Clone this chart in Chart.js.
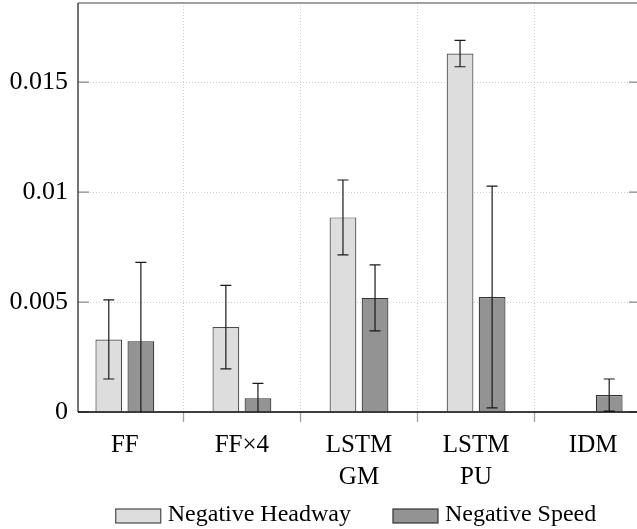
<!DOCTYPE html>
<html><head><meta charset="utf-8">
<script src="https://cdn.jsdelivr.net/npm/chart.js@4.4.1/dist/chart.umd.min.js"></script>
<style>html,body{margin:0;padding:0;overflow:hidden;background:#fff}canvas{display:block}</style>
</head><body>
<canvas id="c" width="641" height="529" style="width:641px;height:529px"></canvas>
<script>
const categories = [['FF'], ['FF×4'], ['LSTM', 'GM'], ['LSTM', 'PU'], ['IDM']];
const seriesNames = ['Negative Headway', 'Negative Speed'];
const headway = [0.00330, 0.00386, 0.00885, 0.01630, 0];
const headwayErr = [0.00180, 0.00190, 0.00170, 0.00060, 0];
const speed = [0.00322, 0.00062, 0.00519, 0.00523, 0.00077];
const speedErr = [0.00358, 0.00068, 0.00150, 0.00504, 0.00073];
const yTickValues = [0, 0.005, 0.01, 0.015];
const yTickLabels = ['0', '0.005', '0.01', '0.015'];
const yMax = 0.0186;

const seriesValues = [headway, speed];
const seriesErrors = [headwayErr, speedErr];
const SERIF = 'Liberation Serif';
Chart.defaults.font.family = SERIF;
Chart.defaults.color = '#000';

const errorBarPlugin = {
  id: 'errorBars',
  afterDatasetsDraw(chart) {
    const ctx = chart.ctx, ca = chart.chartArea, ys = chart.scales.y;
    ctx.save();
    ctx.beginPath();
    ctx.rect(ca.left, ca.top, ca.right - ca.left, ca.bottom - ca.top);
    ctx.clip();
    ctx.strokeStyle = '#1a1a1a';
    ctx.lineWidth = 1.2;
    chart.data.datasets.forEach((ds, d) => {
      const meta = chart.getDatasetMeta(d);
      meta.data.forEach((el, i) => {
        const v = seriesValues[d][i], e = seriesErrors[d][i];
        if (!e) return;
        const x = el.x;
        const yt = ys.getPixelForValue(v + e), yb = ys.getPixelForValue(v - e);
        ctx.beginPath();
        ctx.moveTo(x, yt); ctx.lineTo(x, yb);
        ctx.moveTo(x - 5.5, yt); ctx.lineTo(x + 5.5, yt);
        ctx.moveTo(x - 5.5, yb); ctx.lineTo(x + 5.5, yb);
        ctx.stroke();
      });
    });
    ctx.restore();
  }
};

const framePlugin = {
  id: 'frame',
  afterDraw(chart) {
    const ctx = chart.ctx, ca = chart.chartArea, ys = chart.scales.y;
    ctx.save();
    ctx.strokeStyle = '#8a8a8a';
    ctx.lineWidth = 1.2;
    yTickValues.forEach(v => {
      const y = ys.getPixelForValue(v);
      ctx.beginPath();
      ctx.moveTo(ca.left, y); ctx.lineTo(ca.left + 11, y);
      ctx.moveTo(ca.right - 11, y); ctx.lineTo(ca.right, y);
      ctx.stroke();
    });
    ctx.lineWidth = 1.4;
    ctx.strokeStyle = '#808080';
    ctx.beginPath(); ctx.moveTo(ca.left, ca.top); ctx.lineTo(ca.right, ca.top); ctx.stroke();
    ctx.beginPath(); ctx.moveTo(ca.right, ca.top); ctx.lineTo(ca.right, ca.bottom); ctx.stroke();
    ctx.strokeStyle = '#3a3a3a';
    ctx.beginPath(); ctx.moveTo(ca.left, ca.top); ctx.lineTo(ca.left, ca.bottom); ctx.stroke();
    ctx.strokeStyle = '#000';
    ctx.beginPath(); ctx.moveTo(ca.left, ca.bottom); ctx.lineTo(ca.right, ca.bottom); ctx.stroke();
    ctx.restore();
  }
};

const legendPlugin = {
  id: 'customLegend',
  afterDraw(chart) {
    const ctx = chart.ctx, ca = chart.chartArea;
    ctx.save();
    ctx.font = '24px "' + SERIF + '"';
    ctx.textBaseline = 'alphabetic';
    const boxW = 45, boxH = 14, textGap = 7, itemGap = 42;
    const dsets = chart.data.datasets;
    const widths = dsets.map(ds => ctx.measureText(ds.label).width);
    const total = widths.reduce((a, w) => a + boxW + textGap + w, 0) + itemGap * (dsets.length - 1);
    let x = (ca.left + ca.right) / 2 - total / 2 - 3;
    const yc = ca.bottom + 104;
    dsets.forEach((ds, i) => {
      ctx.fillStyle = ds.backgroundColor;
      ctx.fillRect(x, yc - boxH / 2, boxW, boxH);
      ctx.strokeStyle = ds.borderColor;
      ctx.lineWidth = 1.2;
      ctx.strokeRect(x, yc - boxH / 2, boxW, boxH);
      ctx.fillStyle = '#000';
      ctx.fillText(ds.label, x + boxW + textGap, yc + 5);
      x += boxW + textGap + widths[i] + itemGap;
    });
    ctx.restore();
  }
};

new Chart(document.getElementById('c'), {
  type: 'bar',
  data: {
    datasets: [
      {
        label: seriesNames[0],
        data: headway.map((v, i) => ({ x: i, y: v })),
        backgroundColor: '#dddddd',
        borderColor: '#4a4a4a',
        borderWidth: 1.2
      },
      {
        label: seriesNames[1],
        data: speed.map((v, i) => ({ x: i, y: v })),
        backgroundColor: '#939393',
        borderColor: '#333333',
        borderWidth: 1.2
      }
    ]
  },
  options: {
    responsive: false,
    animation: false,
    devicePixelRatio: 1,
    barPercentage: 0.834,
    categoryPercentage: 0.548,
    layout: { padding: { top: 3, right: 1, bottom: 0, left: 0 } },
    plugins: { legend: { display: false }, tooltip: { enabled: false } },
    scales: {
      x: {
        type: 'linear',
        min: -0.4,
        max: 4.4,
        offset: false,
        afterBuildTicks: s => { s.ticks = categories.map((_, i) => ({ value: i })); },
        afterFit: s => { s.height = 117; s.paddingLeft = 0; s.paddingRight = 0; },
        ticks: {
          callback: v => categories[v],
          font: { size: 25, lineHeight: 1.28 },
          color: '#000',
          padding: 7,
          maxRotation: 0,
          autoSkip: false
        },
        grid: {
          color: '#cfcfcf',
          lineWidth: 1,
          drawTicks: true,
          tickLength: 10,
          tickColor: '#a0a0a0',
          tickWidth: 1.3,
          tickBorderDash: []
        },
        border: { display: false, dash: [1, 2] }
      },
      y: {
        min: 0,
        max: yMax,
        afterBuildTicks: s => { s.ticks = yTickValues.map(v => ({ value: v })); },
        afterFit: s => { s.width = 78; s.paddingTop = 0; s.paddingBottom = 0; },
        ticks: {
          callback: v => yTickLabels[yTickValues.indexOf(v)],
          font: { size: 26 },
          color: '#000',
          padding: 10
        },
        grid: { color: '#cfcfcf', lineWidth: 1, drawTicks: false },
        border: { display: false, dash: [1, 2] }
      }
    }
  },
  plugins: [errorBarPlugin, framePlugin, legendPlugin]
});
</script>
</body></html>
